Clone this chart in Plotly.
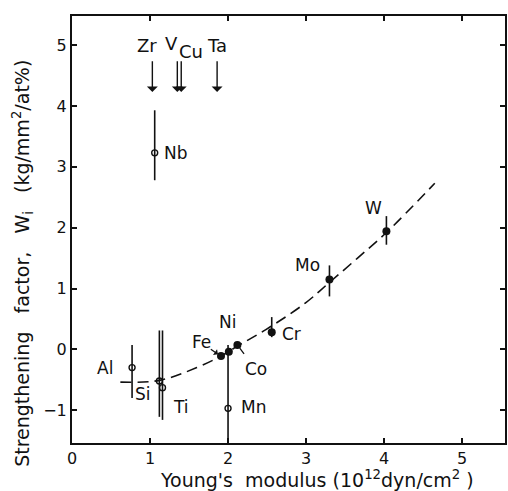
import plotly.graph_objects as go

# ---- data ----
open_names = ["Nb", "Al", "Si", "Ti", "Mn"]
open_x = [1.06, 0.77, 1.12, 1.16, 2.00]
open_y = [3.23, -0.30, -0.52, -0.63, -0.97]
open_err_plus = [0.70, 0.37, 0.83, 0.94, 1.04]
open_err_minus = [0.45, 0.50, 0.59, 0.53, 0.60]

filled_names = ["Fe", "Ni", "Co", "Cr", "Mo", "W"]
filled_x = [1.91, 2.01, 2.12, 2.56, 3.30, 4.03]
filled_y = [-0.11, -0.04, 0.07, 0.28, 1.15, 1.94]
filled_err_plus = [0.0, 0.0, 0.0, 0.25, 0.23, 0.25]
filled_err_minus = [0.0, 0.0, 0.0, 0.08, 0.28, 0.22]

curve_x = [0.62, 1.12, 1.60, 1.91, 2.13, 2.48, 2.99, 3.30, 3.66, 4.03, 4.65]
curve_y = [-0.54, -0.51, -0.30, -0.11, 0.06, 0.32, 0.76, 1.10, 1.50, 1.92, 2.73]

label_names = ["Nb", "Al", "Si", "Ti", "Fe", "Ni", "Co", "Mn", "Cr", "Mo", "W"]
label_x = [1.33, 0.42, 0.91, 1.40, 1.66, 1.99, 2.36, 2.33, 2.81, 3.02, 3.87]
label_y = [3.23, -0.31, -0.73, -0.95, 0.12, 0.45, -0.33, -0.95, 0.26, 1.38, 2.32]

top_names = ["Zr", "V", "Cu", "Ta"]
top_label_x = [0.96, 1.28, 1.52, 1.86]
top_label_y = [5.00, 5.02, 4.89, 5.00]
top_arrow_x = [1.03, 1.35, 1.40, 1.86]
arrow_top_y = 4.76
arrow_tip_y = 4.23

x_ticks = [0, 1, 2, 3, 4, 5]
y_ticks = [-1, 0, 1, 2, 3, 4, 5]

FONT = "DejaVu Sans"
INK = "#111111"

fig = go.Figure()

fig.add_trace(go.Scatter(
    x=curve_x, y=curve_y, mode="lines", line_shape="spline",
    line=dict(color=INK, width=1.6, dash="11px,6px"), hoverinfo="skip",
))

fig.add_trace(go.Scatter(
    x=open_x, y=open_y, mode="markers", text=open_names,
    marker=dict(symbol="circle-open", size=6, color=INK, line=dict(width=1.4, color=INK)),
    error_y=dict(type="data", symmetric=False, array=open_err_plus,
                 arrayminus=open_err_minus, width=0, thickness=1.6, color=INK),
))

fig.add_trace(go.Scatter(
    x=filled_x, y=filled_y, mode="markers", text=filled_names,
    marker=dict(symbol="circle", size=8, color=INK),
    error_y=dict(type="data", symmetric=False, array=filled_err_plus,
                 arrayminus=filled_err_minus, width=0, thickness=1.6, color=INK),
))

annotations = []
for n, x, y in zip(label_names, label_x, label_y):
    annotations.append(dict(x=x, y=y, xref="x", yref="y", text=n, showarrow=False,
                            font=dict(family=FONT, size=17, color=INK)))

for n, x, y in zip(top_names, top_label_x, top_label_y):
    annotations.append(dict(x=x, y=y, xref="x", yref="y", text=n, showarrow=False,
                            font=dict(family=FONT, size=18, color=INK)))

for x in top_arrow_x:
    annotations.append(dict(x=x, y=arrow_tip_y, ax=x, ay=arrow_top_y, xref="x", yref="y",
                            axref="x", ayref="y", text="", showarrow=True,
                            arrowhead=1, arrowsize=1.3, arrowwidth=1.4, arrowcolor=INK))

# small pointer arrows for Fe and Co
annotations.append(dict(x=filled_x[0] - 0.04, y=filled_y[0] + 0.03, ax=1.76, ay=0.02,
                        xref="x", yref="y", axref="x", ayref="y", text="", showarrow=True,
                        arrowhead=1, arrowsize=0.9, arrowwidth=1.3, arrowcolor=INK))
annotations.append(dict(x=filled_x[2] + 0.03, y=filled_y[2] - 0.05, ax=2.22, ay=-0.10,
                        xref="x", yref="y", axref="x", ayref="y", text="", showarrow=True,
                        arrowhead=0, arrowwidth=1.3, arrowcolor=INK))

# axis titles
annotations.append(dict(x=0.566, y=-0.084, xref="paper", yref="paper",
                        xanchor="center", yanchor="middle",
                        text="Young's  modulus (10<sup>12</sup>dyn/cm<sup>2</sup> )",
                        showarrow=False, font=dict(family=FONT, size=19, color=INK)))
annotations.append(dict(x=-0.115, y=0.42, xref="paper", yref="paper", textangle=-90,
                        xanchor="center", yanchor="middle",
                        text="Strengthening   factor,   W<sub>i</sub>   (kg/mm<sup>2</sup>/at%)",
                        showarrow=False, font=dict(family=FONT, size=19, color=INK)))

axis_common = dict(showgrid=False, zeroline=False, showline=True, linecolor=INK,
                   linewidth=2, mirror="ticks", ticks="inside", ticklen=5,
                   tickwidth=1.5, tickcolor=INK,
                   tickfont=dict(family=FONT, size=16, color=INK))

fig.update_layout(
    width=508, height=491,
    margin=dict(l=72, r=1, t=16, b=48),
    paper_bgcolor="white", plot_bgcolor="white",
    showlegend=False,
    xaxis=dict(range=[0, 5.55], tickvals=x_ticks, **axis_common),
    yaxis=dict(range=[-1.54, 5.48], tickvals=y_ticks, **axis_common),
    annotations=annotations,
)

fig.write_html("out.html")
